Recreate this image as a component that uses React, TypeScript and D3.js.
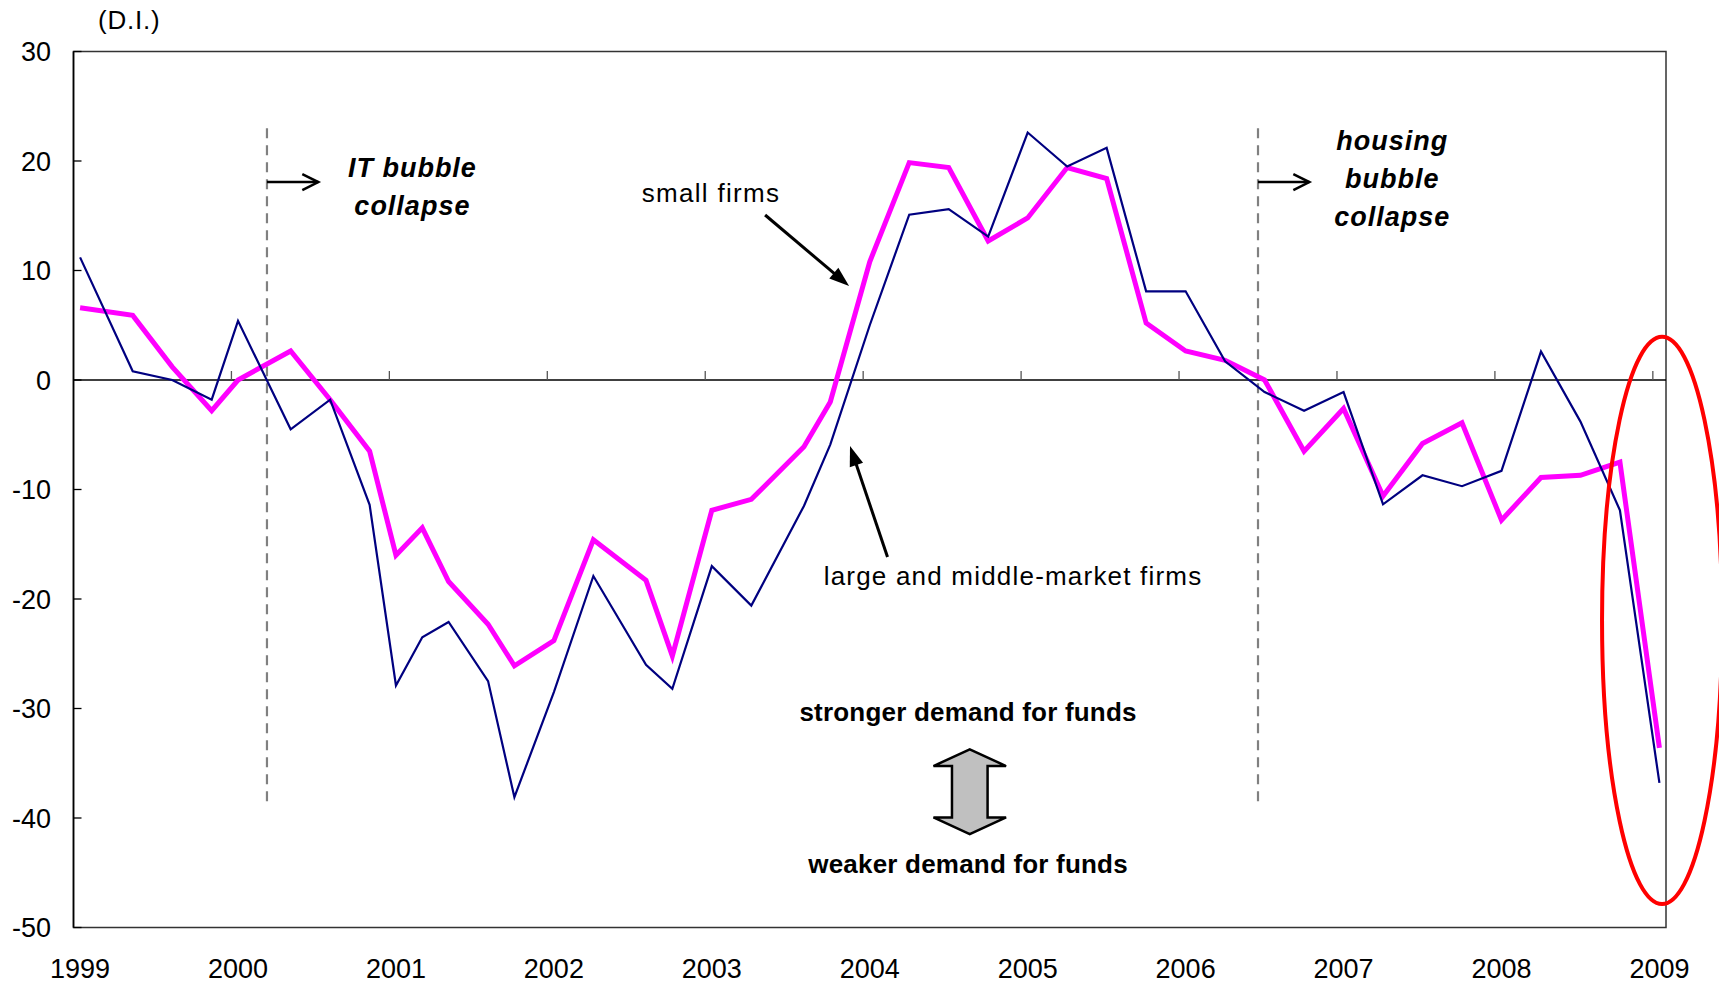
import React from 'react';
import * as d3 from 'd3';

// survey dates as months since Jan 1999
const surveyMonth = [0, 4, 7, 10, 12, 16, 19, 22, 24, 26, 28, 31, 33, 36, 39, 43, 45, 48, 51, 55, 57, 60, 63, 66, 69, 72, 75, 78, 81, 84, 87, 90, 93, 96, 99, 102, 105, 108, 111, 114, 117, 120];
const largeMiddleFirms = [11.2, 0.8, 0.0, -1.8, 5.4, -4.5, -1.8, -11.4, -27.9, -23.5, -22.1, -27.5, -38.1, -28.5, -17.9, -26.0, -28.2, -17.0, -20.6, -11.5, -5.9, 5.0, 15.1, 15.6, 13.1, 22.6, 19.5, 21.2, 8.1, 8.1, 1.7, -1.1, -2.8, -1.1, -11.35, -8.7, -9.7, -8.3, 2.6, -3.8, -11.9, -36.8];
const smallFirms = [6.6, 5.9, 1.2, -2.8, 0.0, 2.65, -1.8, -6.5, -16.0, -13.5, -18.4, -22.3, -26.1, -23.8, -14.6, -18.3, -25.2, -11.9, -10.9, -6.1, -2.0, 10.8, 19.85, 19.4, 12.7, 14.8, 19.4, 18.4, 5.2, 2.65, 1.8, 0.0, -6.5, -2.6, -10.6, -5.8, -3.9, -12.8, -8.9, -8.7, -7.5, -33.6];
const yTickValues = [30, 20, 10, 0, -10, -20, -30, -40, -50];
const yearLabels = ['1999', '2000', '2001', '2002', '2003', '2004', '2005', '2006', '2007', '2008', '2009'];
const bubbleEvents = [
  { month: 14.7, lines: ['IT bubble', 'collapse'], textMonth: 25.25, firstBaseline: 18.58 },
  { month: 90.0, lines: ['housing', 'bubble', 'collapse'], textMonth: 99.7, firstBaseline: 21.05 },
];

const W = 1719;
const H = 984;
const L = 73.5;
const R = 1666;
const T = 51.5;
const B = 927.5;
const FONT = '"Liberation Sans", Arial, Helvetica, sans-serif';

function Arrow({ x1, y1, x2, y2 }: { x1: number; y1: number; x2: number; y2: number }) {
  const ang = Math.atan2(y2 - y1, x2 - x1);
  const len = 20;
  const half = 7;
  const bx = x2 - len * Math.cos(ang);
  const by = y2 - len * Math.sin(ang);
  const nx = -Math.sin(ang);
  const ny = Math.cos(ang);
  const pts = [
    [x2, y2],
    [bx + nx * half, by + ny * half],
    [bx - nx * half, by - ny * half],
  ];
  return (
    <g>
      <line x1={x1} y1={y1} x2={bx + 2 * Math.cos(ang)} y2={by + 2 * Math.sin(ang)} stroke="#000" strokeWidth={3} />
      <polygon points={pts.map((p) => p.join(',')).join(' ')} fill="#000" />
    </g>
  );
}

export default function App() {
  const x = d3.scaleLinear().domain([0, 121]).range([L, R]);
  const y = d3.scaleLinear().domain([-50, 30]).range([B, T]);
  const px = (m: number) => x(m + 0.5);

  const lineGen = (vals: number[]) =>
    d3
      .line<number>()
      .x((_d, i) => px(surveyMonth[i]))
      .y((d) => y(d))(vals) as string;

  const y0 = y(0);

  // double arrow
  const dcx = px(67.6);
  const dTop = y(-33.73);
  const dBot = y(-41.47);
  const headH = 16.7;
  const headW = 36.3;
  const shaftW = 17.8;
  const dArrow = [
    [dcx, dTop],
    [dcx + headW, dTop + headH],
    [dcx + shaftW, dTop + headH],
    [dcx + shaftW, dBot - headH],
    [dcx + headW, dBot - headH],
    [dcx, dBot],
    [dcx - headW, dBot - headH],
    [dcx - shaftW, dBot - headH],
    [dcx - shaftW, dTop + headH],
    [dcx - headW, dTop + headH],
  ];

  const ellCx = px(120.2);
  const ellCy = y(-21.96);
  const ellRx = x(4.56) - x(0);
  const ellRy = y(0) - y(25.9);

  return (
    <svg
      width={W}
      height={H}
      style={{ position: 'absolute', left: 0, top: 0, background: '#fff' }}
      fontFamily={FONT}
    >
      <rect x={0} y={0} width={W} height={H} fill="#fff" />
      {/* frame */}
      <rect x={L} y={T} width={R - L} height={B - T} fill="none" stroke="#333" strokeWidth={1.5} />
      <line x1={L} y1={T} x2={L} y2={B} stroke="#000" strokeWidth={1.6} />

      {/* y ticks and labels */}
      {yTickValues.map((v) => (
        <g key={v}>
          <line x1={L} x2={L + 8} y1={y(v)} y2={y(v)} stroke="#000" strokeWidth={1.3} />
          <text x={51} y={y(v) + 9.6} textAnchor="end" fontSize={27} fill="#000">
            {v}
          </text>
        </g>
      ))}
      <text x={98} y={29} fontSize={26} fill="#000" letterSpacing={0.8}>
        (D.I.)
      </text>

      {/* zero axis with year ticks */}
      <line x1={L} x2={R} y1={y0} y2={y0} stroke="#000" strokeWidth={1.6} />
      {yearLabels.map((lab, i) => (
        <g key={lab}>
          {i > 0 && (
            <line x1={x(i * 12)} x2={x(i * 12)} y1={y0} y2={y0 - 9} stroke="#555" strokeWidth={1.3} />
          )}
          <text x={px(i * 12)} y={977.5} textAnchor="middle" fontSize={27} fill="#000">
            {lab}
          </text>
        </g>
      ))}

      {/* bubble-collapse markers */}
      {bubbleEvents.map((ev) => {
        const ex = x(ev.month);
        const ay = y(18.08);
        const ax2 = x(ev.month + 3.9);
        return (
          <g key={ev.lines[0]}>
            <line x1={ex} x2={ex} y1={y(23)} y2={y(-38.7)} stroke="#808080" strokeWidth={2.2} strokeDasharray="10,7" />
            <line x1={ex} x2={ax2} y1={ay} y2={ay} stroke="#000" strokeWidth={2.5} />
            <polyline
              points={`${ax2 - 16},${ay - 8} ${ax2},${ay} ${ax2 - 16},${ay + 8}`}
              fill="none"
              stroke="#000"
              strokeWidth={2.5}
            />
            {ev.lines.map((t, k) => (
              <text
                key={t}
                x={px(ev.textMonth)}
                y={y(ev.firstBaseline) + k * 38}
                textAnchor="middle"
                fontSize={27}
                fontWeight="bold"
                fontStyle="italic"
                letterSpacing={1}
                fill="#000"
              >
                {t}
              </text>
            ))}
          </g>
        );
      })}

      {/* series */}
      <path d={lineGen(smallFirms)} fill="none" stroke="#ff00ff" strokeWidth={5} strokeLinejoin="miter" />
      <path d={lineGen(largeMiddleFirms)} fill="none" stroke="#000080" strokeWidth={2.2} strokeLinejoin="miter" />

      {/* labels */}
      <text x={x(48.44)} y={y(16.28)} textAnchor="middle" fontSize={26} letterSpacing={1.3} fill="#000">
        small firms
      </text>
      <Arrow x1={x(52.55)} y1={y(15.07)} x2={x(58.93)} y2={y(8.58)} />
      <text x={x(71.39)} y={y(-18.72)} textAnchor="middle" fontSize={26} letterSpacing={1.2} fill="#000">
        large and middle-market firms
      </text>
      <Arrow x1={x(61.85)} y1={y(-16.16)} x2={x(59.0)} y2={y(-6.03)} />

      <text x={x(67.97)} y={y(-31.1)} textAnchor="middle" fontSize={26} fontWeight="bold" letterSpacing={0.2} fill="#000">
        stronger demand for funds
      </text>
      <polygon points={dArrow.map((p) => p.join(',')).join(' ')} fill="#c0c0c0" stroke="#000" strokeWidth={2.5} />
      <text x={x(67.97)} y={y(-44.98)} textAnchor="middle" fontSize={26} fontWeight="bold" letterSpacing={0.2} fill="#000">
        weaker demand for funds
      </text>

      {/* highlight ellipse */}
      <ellipse cx={ellCx} cy={ellCy} rx={ellRx} ry={ellRy} fill="none" stroke="#ff0000" strokeWidth={4} />
    </svg>
  );
}
